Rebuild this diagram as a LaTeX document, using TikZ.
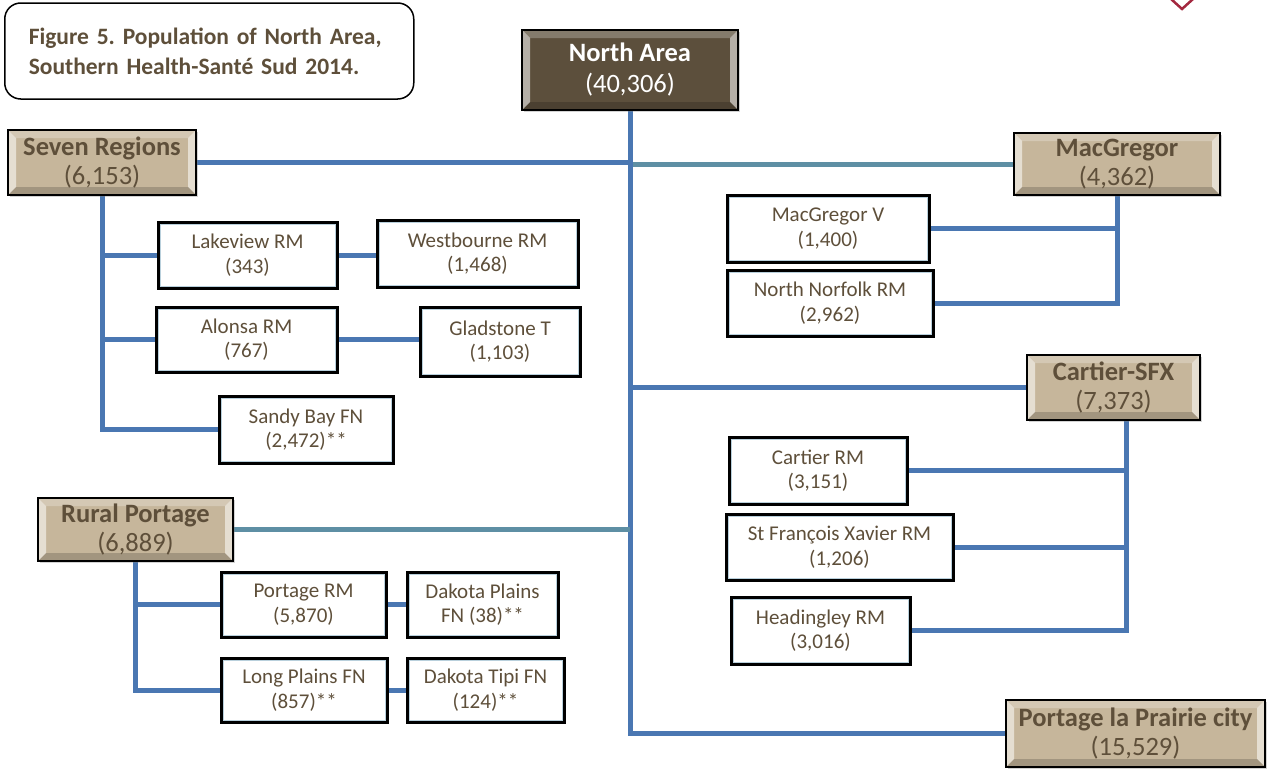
\documentclass[tikz,border=0pt]{standalone}
\usepackage{fontspec}
\setmainfont{Carlito}
\frenchspacing
\usetikzlibrary{shadows}
\definecolor{txtbrown}{HTML}{5E4F3A}
\definecolor{tanfill}{HTML}{C6B69B}
\definecolor{darkfill}{HTML}{5C4F3C}
\definecolor{linkblue}{HTML}{4A77B2}
\definecolor{linkteal}{HTML}{5E8FA4}
\definecolor{framebl}{HTML}{B9D0DC}
\definecolor{logored}{HTML}{A3283F}
\pgfdeclarelayer{background}
\pgfsetlayers{background,main}
\tikzset{
  bevel/.style={path picture={
    \fill[white,opacity=.55] (path picture bounding box.north west) -- ([xshift=8pt,yshift=-8pt]path picture bounding box.north west) -- ([xshift=8pt,yshift=8pt]path picture bounding box.south west) -- (path picture bounding box.south west) -- cycle;
    \fill[white,opacity=.55] (path picture bounding box.north east) -- ([xshift=-8pt,yshift=-8pt]path picture bounding box.north east) -- ([xshift=-8pt,yshift=8pt]path picture bounding box.south east) -- (path picture bounding box.south east) -- cycle;
    \fill[white,opacity=.25] (path picture bounding box.north west) -- ([xshift=8pt,yshift=-8pt]path picture bounding box.north west) -- ([xshift=-8pt,yshift=-8pt]path picture bounding box.north east) -- (path picture bounding box.north east) -- cycle;
    \fill[black,opacity=.18] (path picture bounding box.south west) -- ([xshift=8pt,yshift=8pt]path picture bounding box.south west) -- ([xshift=-8pt,yshift=8pt]path picture bounding box.south east) -- (path picture bounding box.south east) -- cycle;
  }},
  areabox/.style={draw=black, line width=1.5pt, fill=tanfill, bevel, text=txtbrown, align=center,
    inner sep=0pt, font=\fontsize{26.5}{29}\selectfont,
    drop shadow={opacity=.35, shadow xshift=2pt, shadow yshift=-2pt}},
  topbox/.style={areabox, fill=darkfill, text=white, font=\fontsize{26.5}{31}\selectfont},
  unitbox/.style={draw=black, line width=3pt, fill=white, text=txtbrown, align=center, inner sep=0pt,
    font=\fontsize{21}{24.5}\selectfont,
    path picture={\draw[framebl, line width=5pt] (path picture bounding box.north west) rectangle (path picture bounding box.south east);},
    drop shadow={opacity=.3, shadow xshift=2pt, shadow yshift=-2pt}},
  titlebox/.style={draw=black, line width=1.5pt, rounded corners=16pt, fill=white, text=txtbrown,
    align=left, inner xsep=24pt, inner ysep=0pt, font=\bfseries\fontsize{23.5}{30}\selectfont},
  link/.style={draw=linkblue, line width=5pt},
  tealink/.style={draw=linkteal, line width=5pt}
}
\begin{document}
\begin{tikzpicture}[x=1pt,y=-1pt]
\useasboundingbox (0,0) rectangle (1273,771);

% caption
\node[titlebox, anchor=west, minimum height=96pt, text width=361pt] (title) at (4,51)
  {Figure 5. Population of North Area,\\Southern Health-Santé Sud 2014.};

% logo fragment in the corner
\draw[logored, line width=2.5pt] (1171,-1) -- (1182,9) -- (1193,-1);

% area level
\node[topbox, minimum width=216pt, minimum height=80pt] (north) at (630,70)
  {\textbf{North Area}\\(40,306)};
\node[areabox, minimum width=188pt, minimum height=65pt] (seven) at (102,162.5)
  {\textbf{Seven Regions}\\(6,153)};
\node[areabox, minimum width=206pt, minimum height=62pt] (macg) at (1117,164)
  {\textbf{MacGregor}\\(4,362)};
\node[areabox, minimum width=173pt, minimum height=65pt] (cart) at (1113.5,387.5)
  {\textbf{Cartier-SFX}\\(7,373)};
\node[areabox, minimum width=195pt, minimum height=63pt] (rural) at (135.5,529.5)
  {\textbf{Rural Portage}\\(6,889)};
\node[areabox, minimum width=259pt, minimum height=67pt] (city) at (1135.5,733.5)
  {\textbf{Portage la Prairie city}\\(15,529)};

% municipalities
\node[unitbox, minimum width=179pt, minimum height=66pt] (lake) at (247.5,255) {Lakeview RM\\(343)};
\node[unitbox, minimum width=201pt, minimum height=67pt] (west) at (477.5,253.5) {Westbourne RM\\(1,468)};
\node[unitbox, minimum width=181pt, minimum height=65pt] (alonsa) at (246.5,339.5) {Alonsa RM\\(767)};
\node[unitbox, minimum width=160pt, minimum height=69pt] (glad) at (500,341.5) {Gladstone T\\(1,103)};
\node[unitbox, minimum width=174pt, minimum height=67pt] (sandy) at (306,429.5) {Sandy Bay FN\\(2,472)**};

\node[unitbox, minimum width=202pt, minimum height=67pt] (macv) at (828,228.5) {MacGregor V\\(1,400)};
\node[unitbox, minimum width=206pt, minimum height=66pt] (norf) at (830,303) {North Norfolk RM\\(2,962)};

\node[unitbox, minimum width=178pt, minimum height=67pt] (cartrm) at (818,470.5) {Cartier RM\\(3,151)};
\node[unitbox, minimum width=227pt, minimum height=66pt] (sfx) at (839.5,547) {St François Xavier RM\\(1,206)};
\node[unitbox, minimum width=179pt, minimum height=67pt] (head) at (820.5,630.5) {Headingley RM\\(3,016)};

\node[unitbox, minimum width=165pt, minimum height=65pt] (portrm) at (303.5,604.5) {Portage RM\\(5,870)};
\node[unitbox, minimum width=151pt, minimum height=65pt] (dakp) at (482.5,604.5) {Dakota Plains\\FN (38)**};
\node[unitbox, minimum width=166pt, minimum height=64pt] (longp) at (304,690) {Long Plains FN\\(857)**};
\node[unitbox, minimum width=157pt, minimum height=64pt] (dakt) at (485.5,690) {Dakota Tipi FN\\(124)**};

\coordinate (cartbus) at ([xshift=12.5pt]cart.south);

\begin{pgfonlayer}{background}
  % trunk from the area node
  \draw[tealink] (macg) -- (macg -| north);
  \draw[link] (north) -- (north |- city) -- (city);
  \draw[link] (seven) -- (seven -| north);
  \draw[link] (cart) -- (cart -| north);
  \draw[tealink] (rural) -- (rural -| north);
  % Seven Regions
  \draw[link] (seven) |- (lake);
  \draw[link] (seven) |- (alonsa);
  \draw[link] (seven) |- (sandy);
  \draw[link] (lake) -- (lake -| west);
  \draw[link] (alonsa) -- (alonsa -| glad);
  % MacGregor
  \draw[link] (macg) |- (macv);
  \draw[link] (macg) |- (norf);
  % Cartier-SFX
  \draw[link] (cartbus) |- (cartrm);
  \draw[link] (cartbus) |- (sfx);
  \draw[link] (cartbus) |- (head);
  % Rural Portage
  \draw[link] (rural) |- (portrm);
  \draw[link] (rural) |- (longp);
  \draw[link] (portrm) -- (dakp);
  \draw[link] (longp) -- (dakt);
\end{pgfonlayer}
\end{tikzpicture}
\end{document}
